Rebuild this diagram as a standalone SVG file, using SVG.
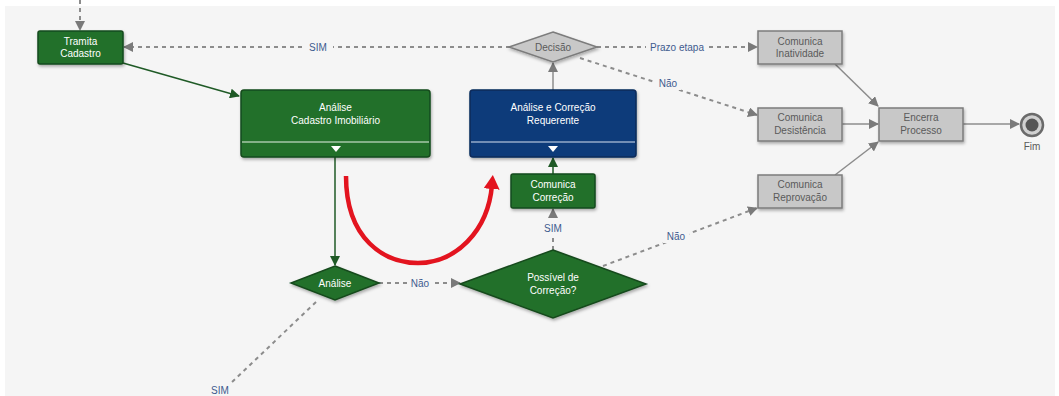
<svg xmlns="http://www.w3.org/2000/svg" width="1059" height="396" viewBox="0 0 1059 396">
<defs>
<style>
.bg{fill:#f5f5f5}
.g{fill:#23702c;stroke:#164a1c;stroke-width:1.5}
.b{fill:#0b3a7a;stroke:#082a5a;stroke-width:1.5}
.gr{fill:#c8c8c8;stroke:#7c7c7c;stroke-width:1.5}
.wt{fill:#ffffff;font-family:"Liberation Sans",Arial,sans-serif;font-size:10px;text-anchor:middle}
.dt{fill:#5a5a5a;font-family:"Liberation Sans",Arial,sans-serif;font-size:10px;text-anchor:middle}
.lb{fill:#3e5b8f;font-family:"Liberation Sans",Arial,sans-serif;font-size:10px;text-anchor:middle}
.dash{fill:none;stroke:#8c8c8c;stroke-width:2;stroke-dasharray:4 4}
.sol{fill:none;stroke:#8c8c8c;stroke-width:1.5}
.solg{fill:none;stroke:#1f5a26;stroke-width:1.5}
.sep{stroke:#e8f2e8;stroke-width:1}
</style>
<marker id="ag" markerWidth="10" markerHeight="10" refX="9" refY="5" orient="auto" markerUnits="userSpaceOnUse"><path d="M0,0 L10,5 L0,10 z" fill="#7a7a7a"/></marker>
<marker id="agr" markerWidth="10" markerHeight="10" refX="9" refY="5" orient="auto" markerUnits="userSpaceOnUse"><path d="M0,0 L10,5 L0,10 z" fill="#1f5a26"/></marker>
<marker id="ar" markerWidth="16" markerHeight="16" refX="4" refY="8" orient="auto" markerUnits="userSpaceOnUse"><path d="M0,0 L14,8 L0,16 z" fill="#e3141f"/></marker>
<filter id="sh" x="-10%" y="-10%" width="130%" height="140%"><feDropShadow dx="1" dy="2" stdDeviation="1.5" flood-color="#000" flood-opacity="0.3"/></filter>
</defs>
<rect x="0" y="0" width="1059" height="396" fill="#ffffff"/>
<rect class="bg" x="5" y="6" width="1050" height="390"/>

<g id="connectors">
<path class="dash" d="M80,0 L80,30" marker-end="url(#ag)"/>
<path class="solg" d="M123,63 L239,96" marker-end="url(#agr)"/>
<path class="dash" d="M510,47 L124,47" marker-end="url(#ag)"/>
<rect x="303" y="40" width="30" height="14" fill="#f5f5f5"/>
<text class="lb" x="318" y="51">SIM</text>
<path class="dash" d="M597,47 L757,47" marker-end="url(#ag)"/>
<rect x="646" y="40" width="62" height="14" fill="#f5f5f5"/>
<text class="lb" x="677" y="51">Prazo etapa</text>
<path class="dash" d="M580,58 L757,115" marker-end="url(#ag)"/>
<rect x="655" y="77" width="26" height="13" fill="#f5f5f5"/>
<text class="lb" x="668" y="87">Não</text>
<path class="sol" d="M553,90 L553,63" marker-end="url(#ag)"/>
<path class="solg" d="M553,174 L553,158" marker-end="url(#agr)"/>
<path class="dash" d="M553,250 L553,209" marker-end="url(#ag)"/>
<rect x="541" y="222" width="24" height="13" fill="#f5f5f5"/>
<text class="lb" x="553" y="232">SIM</text>
<path class="solg" d="M335,157 L335,265" marker-end="url(#agr)"/>
<path class="dash" d="M379,283 L460,283" marker-end="url(#ag)"/>
<rect x="407" y="277" width="26" height="13" fill="#f5f5f5"/>
<text class="lb" x="420" y="287">Não</text>
<path class="dash" d="M603,266 L757,208" marker-end="url(#ag)"/>
<rect x="663" y="230" width="26" height="13" fill="#f5f5f5"/>
<text class="lb" x="676" y="240">Não</text>
<path class="dash" d="M316,302 L230,384"/>
<text class="lb" x="220" y="394">SIM</text>
<path class="sol" d="M835,64 L878,106" marker-end="url(#ag)"/>
<path class="sol" d="M842,124 L878,124" marker-end="url(#ag)"/>
<path class="sol" d="M835,175 L878,142" marker-end="url(#ag)"/>
<path class="sol" d="M963,124 L1019,124" marker-end="url(#ag)"/>
<path d="M346,176 C346,240 385,263 418,263 C455,263 488,232 492,185" fill="none" stroke="#e3141f" stroke-width="4.5" marker-end="url(#ar)"/>
</g>

<g id="tramita">
<rect class="g" x="38" y="31" width="85" height="33" rx="2" filter="url(#sh)"/>
<text class="wt" x="80.5" y="45">Tramita</text>
<text class="wt" x="80.5" y="57">Cadastro</text>
</g>

<g id="analise-cadastro">
<rect class="g" x="241" y="90" width="189" height="67" rx="3" filter="url(#sh)"/>
<line class="sep" x1="242" y1="142" x2="429" y2="142"/>
<path d="M331,146 L341,146 L336,152 z" fill="#ffffff"/>
<text class="wt" x="335.5" y="111">Análise</text>
<text class="wt" x="335.5" y="124">Cadastro Imobiliário</text>
</g>

<g id="analise-correcao">
<rect class="b" x="470" y="90" width="166" height="67" rx="3" filter="url(#sh)"/>
<line x1="471" y1="142" x2="635" y2="142" stroke="#d8e2f0" stroke-width="1"/>
<path d="M548,146 L558,146 L553,152 z" fill="#ffffff"/>
<text class="wt" x="553" y="111">Análise e Correção</text>
<text class="wt" x="553" y="124">Requerente</text>
</g>

<g id="decisao">
<path class="gr" d="M553,32 L597,47 L553,62 L509,47 z" filter="url(#sh)"/>
<text class="dt" x="553" y="51">Decisão</text>
</g>

<g id="comunica-inatividade">
<rect class="gr" x="758" y="31" width="84" height="33" filter="url(#sh)"/>
<text class="dt" x="800" y="45">Comunica</text>
<text class="dt" x="800" y="57">Inatividade</text>
</g>

<g id="comunica-desistencia">
<rect class="gr" x="758" y="108" width="84" height="33" filter="url(#sh)"/>
<text class="dt" x="800" y="121">Comunica</text>
<text class="dt" x="800" y="134">Desistência</text>
</g>

<g id="encerra-processo">
<rect class="gr" x="879" y="108" width="84" height="33" filter="url(#sh)"/>
<text class="dt" x="921" y="121">Encerra</text>
<text class="dt" x="921" y="134">Processo</text>
</g>

<g id="fim">
<circle cx="1032" cy="125" r="11" fill="#d0d0d0" stroke="#6a6a6a" stroke-width="2.5"/>
<circle cx="1032" cy="125" r="6.5" fill="#555555"/>
<text class="dt" x="1032" y="150">Fim</text>
</g>

<g id="comunica-reprovacao">
<rect class="gr" x="758" y="175" width="84" height="33" filter="url(#sh)"/>
<text class="dt" x="800" y="188">Comunica</text>
<text class="dt" x="800" y="201">Reprovação</text>
</g>

<g id="comunica-correcao">
<rect class="g" x="511" y="174" width="84" height="34" rx="2" filter="url(#sh)"/>
<text class="wt" x="553" y="188">Comunica</text>
<text class="wt" x="553" y="201">Correção</text>
</g>

<g id="analise-decisao">
<path class="g" d="M335,266 L379,283 L335,300 L291,283 z" filter="url(#sh)"/>
<text class="wt" x="335" y="287">Análise</text>
</g>

<g id="possivel-correcao">
<path class="g" d="M553,250 L646,284 L553,318 L460,284 z" filter="url(#sh)"/>
<text class="wt" x="553" y="281">Possível de</text>
<text class="wt" x="553" y="294">Correção?</text>
</g>
</svg>
